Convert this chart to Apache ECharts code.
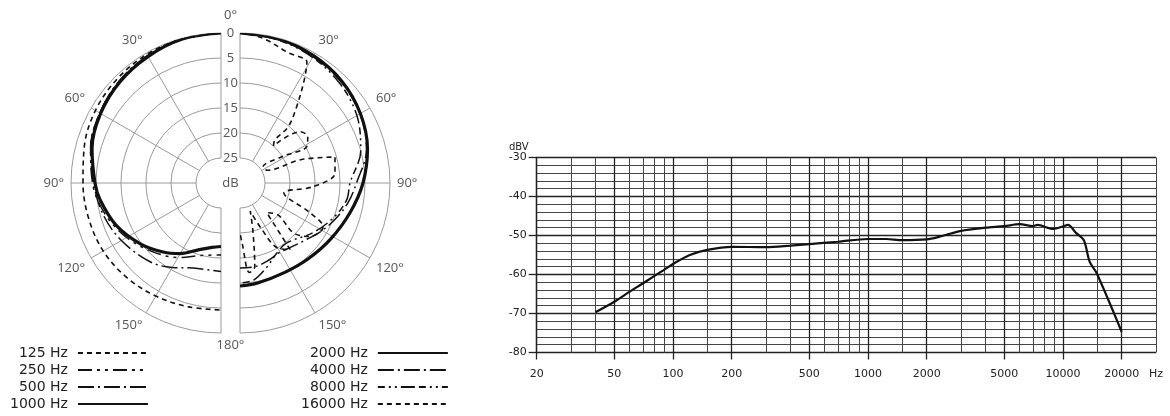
<!DOCTYPE html>
<html><head><meta charset="utf-8">
<script src="https://cdn.jsdelivr.net/npm/echarts@6/dist/echarts.min.js"></script>
<style>html,body{margin:0;padding:0;background:#fff}#c{width:1170px;height:416px}</style>
</head><body><div id="c"></div>
<script>
// ---------- Polar pattern data: [angle in degrees, attenuation in dB] ----------
const hz125 = [[0,0],[15,0.1],[30,0.3],[45,0.6],[60,1.0],[75,1.7],[90,2.4],[105,2.6],[120,2.8],[135,3.3],[150,3.9],[165,4.4],[180,4.6]];
const hz250 = [[0,0],[15,0.2],[30,0.6],[45,1.2],[60,2.0],[75,3.0],[90,4.3],[105,6.0],[120,8.2],[135,10.6],[150,12.8],[165,15.0],[180,15.6]];
const hz500 = [[0,0],[15,0.2],[30,0.6],[45,1.2],[60,2.0],[75,3.0],[90,4.5],[105,5.6],[120,7.0],[138,8.8],[150,10.5],[162,12.1],[180,12.3]];
const hz1000 = [[0,0],[15,0.2],[30,0.8],[45,1.4],[60,2.2],[75,3.3],[90,4.8],[98,5.6],[112,7.4],[127,9.8],[140,12.0],[150,13.7],[162,16.0],[172,17.0],[180,17.3]];
const hz2000 = [[0,0],[15,0.2],[30,0.6],[45,1.2],[60,2.2],[75,3.6],[90,5.4],[105,7.2],[122,8.7],[138,9.6],[153,10.0],[170,9.7],[180,9.4]];
const hz4000 = [[0,0],[15,0.3],[30,0.8],[45,1.4],[60,2.3],[75,3.8],[90,6.7],[100,8.0],[110,9.5],[120,11.0],[130,12.5],[140,13.5],[150,14.0],[160,13.5],[170,13.0],[180,13.0]];
const hz8000 = [[0,0],[15,0.4],[30,1.0],[45,1.8],[60,3.0],[75,5.0],[90,8.0],[99,8.4],[110,10.0],[124,12.3],[142,14.8],[152,14.2],[162,12.4],[172,10.4],[180,10.0]];
const hz16000 = [[0,0],[9,0.7],[20,2.2],[29,2.4],[32,5.8],[36.6,11],[40.6,15.2],[39,18.9],[42,20],[49.5,14.2],[55.7,13.6],[61.4,14.8],[58,20],[55,24.4],[65,24],[69,17],[74.7,10.3],[84,10.9],[92.9,15.4],[103,21],[113,14.8],[117.8,11.2],[127.5,12.4],[133,15.4],[130,20],[138,22],[143,13.3],[150,15],[155,20],[160,24],[165,20],[170,13],[174,12],[178,18],[180,20]];
const angleStep = 30;
const ringStep = 5;
const ringMax = 25;

// ---------- Frequency response data ----------
const respFreq = [40,50,60,70,80,90,100,122,150,200,300,400,500,700,1000,1240,1490,2000,2330,3000,4000,5000,6000,7000,7400,8900,10000,10600,11700,12800,13700,14900,20000];
const respDbv  = [-69.7,-67.0,-64.4,-62.3,-60.4,-58.8,-57.3,-55.0,-53.7,-52.9,-53.0,-52.6,-52.2,-51.6,-50.9,-50.9,-51.2,-51.0,-50.3,-48.8,-48.0,-47.6,-47.1,-47.6,-47.3,-48.3,-47.7,-47.3,-49.4,-51.2,-56.7,-59.7,-74.7];
const freqMajor = [20,50,100,200,500,1000,2000,5000,10000,20000];
const freqMinor = [30,40,60,70,80,90,150,300,400,600,700,800,900,1500,3000,4000,6000,7000,8000,9000,15000,30000];
const freqMin = 20, freqMax = 30000;
const dbvMin = -80, dbvMax = -30, dbvStep = 10;

const gridGrey = '#9a9a9a';
const labelGrey = '#555';
const ink = '#111';

function polarData(arr){ return arr.map(p => [p[1], p[0]]); }

const leftSeries = [
  {name:'125 Hz', data:hz125, lineStyle:{width:1.6, type:[5,4]}},
  {name:'250 Hz', data:hz250, lineStyle:{width:1.5, type:[14,5,3,5,3,5]}},
  {name:'500 Hz', data:hz500, lineStyle:{width:1.5, type:[16,4,2,4]}},
  {name:'1000 Hz', data:hz1000, lineStyle:{width:3.2}}
];
const rightSeries = [
  {name:'2000 Hz', data:hz2000, lineStyle:{width:3.2}},
  {name:'4000 Hz', data:hz4000, lineStyle:{width:1.5, type:[16,4,2,4]}},
  {name:'8000 Hz', data:hz8000, lineStyle:{width:1.5, type:[7,4,2,4,2,4,14,4]}},
  {name:'16000 Hz', data:hz16000, lineStyle:{width:1.6, type:[5,4]}}
];

function mkPolarSeries(list, idx){
  return list.map(s => ({
    type:'line', coordinateSystem:'polar', polarIndex:idx, name:s.name,
    data: polarData(s.data), symbol:'none', smooth:0.35,
    lineStyle:Object.assign({color:ink}, s.lineStyle), itemStyle:{color:ink}, z:5
  }));
}

function halfAngleAxis(idx, endAngle, clockwise){
  return {
    polarIndex:idx, type:'value', min:0, max:180, interval:angleStep,
    startAngle:90, endAngle:endAngle, clockwise:clockwise,
    axisLine:{show:false},
    axisTick:{show:false},
    axisLabel:{margin:7, color:labelGrey, fontSize:13, fontFamily:'Open Sans',
      formatter: v => (v > 0 && v < 180) ? v + '°' : ''},
    splitLine:{show:true, lineStyle:{color:gridGrey, width:1}}
  };
}
function halfRadiusAxis(idx){
  return {
    polarIndex:idx, type:'value', min:0, max:ringMax, interval:ringStep, inverse:true,
    axisLine:{show:false}, axisTick:{show:false}, axisLabel:{show:false},
    splitLine:{show:true, lineStyle:{color:gridGrey, width:1}}
  };
}

const legendCommon = {
  orient:'vertical', itemGap:3, itemHeight:13, itemWidth:70, align:'right', padding:0,
  selectedMode:false,
  itemStyle:{opacity:0, color:'transparent', borderColor:'transparent', borderWidth:0},
  textStyle:{fontFamily:'DejaVu Sans', fontSize:14, color:'#222', padding:[0,5,0,0]}
};

const chart = echarts.init(document.getElementById('c'), null, {renderer:'canvas'});
chart.setOption({
  animation:false,
  backgroundColor:'#fff',
  polar:[
    {center:[221,183], radius:[25,150]},
    {center:[240,183], radius:[25,150]},
    {center:[230.5,183], radius:[25,150]}
  ],
  angleAxis:[
    halfAngleAxis(0, 270, false),
    halfAngleAxis(1, -90, true),
    {polarIndex:2, type:'value', min:0, max:360, interval:180, startAngle:90,
      axisLine:{show:false}, axisTick:{show:false}, splitLine:{show:false},
      axisLabel:{margin:6, color:labelGrey, fontSize:13, fontFamily:'Open Sans',
        formatter: v => v === 0 ? '{t|0°}' : (v === 180 ? '180°' : ''),
        rich:{t:{padding:[0,0,5,0], fontSize:13, color:labelGrey, fontFamily:'Open Sans'}}}}
  ],
  radiusAxis:[
    halfRadiusAxis(0),
    halfRadiusAxis(1),
    {polarIndex:2, type:'value', min:0, max:ringMax, interval:ringStep, inverse:true,
      axisLine:{show:false}, axisTick:{show:false}, splitLine:{show:false},
      axisLabel:{show:true, margin:0, align:'center', verticalAlign:'middle', color:labelGrey, fontSize:13, fontFamily:'Open Sans'}}
  ],
  legend:[
    Object.assign({}, legendCommon, {left:10, top:346, data:leftSeries.map(s=>s.name)}),
    Object.assign({}, legendCommon, {left:301, top:346, data:rightSeries.map(s=>s.name)})
  ],
  graphic:[{type:'text', x:230.5, y:183, style:{text:'dB', align:'center', verticalAlign:'middle', fontSize:13, fill:labelGrey, fontFamily:'Open Sans'}}],
  grid:{left:536.7, right:14, top:157.5, bottom:63.5},
  xAxis:[
    {type:'log', logBase:10, min:freqMin, max:freqMax,
      axisLine:{show:false},
      axisTick:{show:true, length:7, customValues:freqMajor, lineStyle:{color:'#222', width:1.3}},
      axisLabel:{customValues:freqMajor.concat([freqMax]), margin:16, color:'#222', fontSize:11, fontFamily:'DejaVu Sans',
        formatter: v => Math.round(v) === freqMax ? 'Hz' : String(Math.round(v))},
      splitLine:{show:true, lineStyle:{color:'#222', width:1.3}}},
    {type:'log', logBase:10, min:freqMin, max:freqMax, position:'bottom',
      axisLine:{show:false}, axisLabel:{show:false},
      axisTick:{show:false, customValues:freqMinor},
      splitLine:{show:true, lineStyle:{color:'#444', width:1}}}
  ],
  yAxis:{type:'value', min:dbvMin, max:dbvMax, interval:dbvStep,
    name:'dBV', nameLocation:'end', nameGap:4,
    nameTextStyle:{align:'right', padding:[0,8,0,0], color:'#222', fontSize:10, fontFamily:'DejaVu Sans'},
    axisLine:{show:true, lineStyle:{color:'#222', width:1.3}},
    axisTick:{show:true, length:8, lineStyle:{color:'#222', width:1.3}},
    axisLabel:{margin:10, color:'#222', fontSize:11, fontFamily:'DejaVu Sans'},
    splitLine:{show:true, lineStyle:{color:'#222', width:1.3}},
    minorTick:{show:false, splitNumber:5},
    minorSplitLine:{show:true, lineStyle:{color:'#444', width:1}}},
  series: mkPolarSeries(leftSeries, 0).concat(mkPolarSeries(rightSeries, 1)).concat([
    {type:'line', name:'response', xAxisIndex:0, yAxisIndex:0,
      data: respFreq.map((f,i) => [f, respDbv[i]]), symbol:'none', smooth:0.3,
      lineStyle:{color:ink, width:2.2}, z:5}
  ])
});
</script></body></html>
